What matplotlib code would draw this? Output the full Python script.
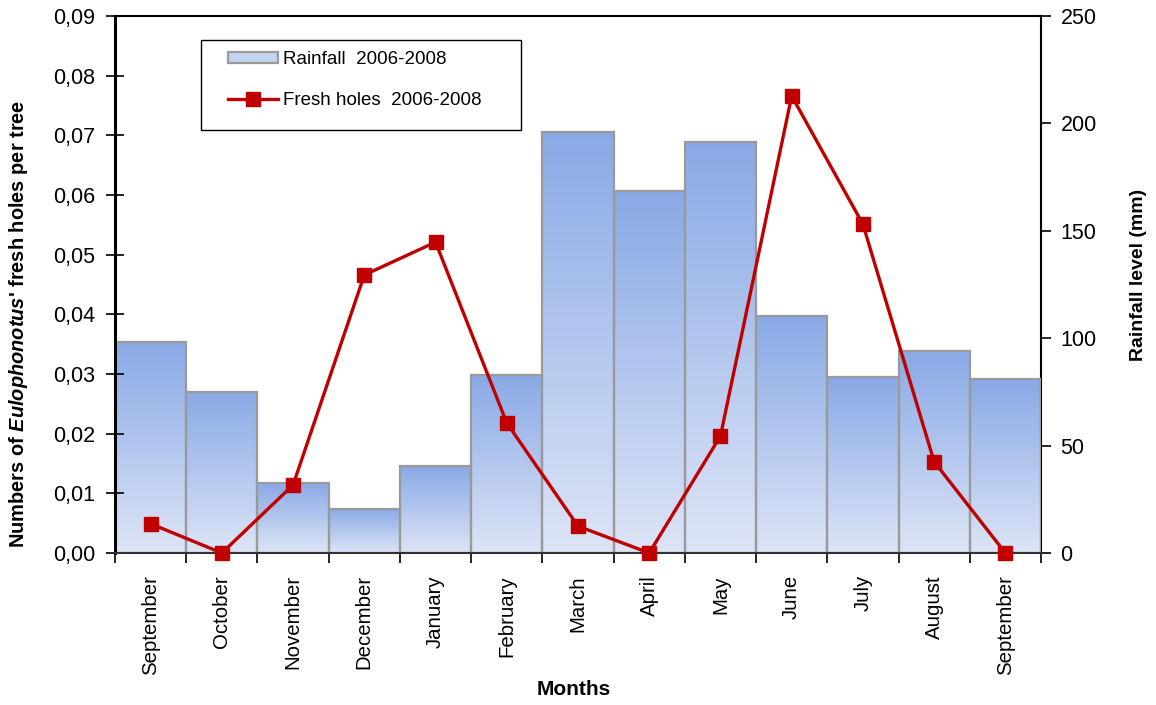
import numpy as np
import matplotlib
matplotlib.use("Agg")
import matplotlib.pyplot as plt
from matplotlib.colors import LinearSegmentedColormap
from matplotlib.patches import Patch, Rectangle
from matplotlib.lines import Line2D
from matplotlib.ticker import FuncFormatter, FixedLocator

plt.rcParams['font.family'] = ['Liberation Sans', 'DejaVu Sans']
plt.rcParams['mathtext.fontset'] = 'custom'
plt.rcParams['mathtext.bfit'] = 'Liberation Sans:italic:bold'
plt.rcParams['mathtext.it'] = 'Liberation Sans:italic'
plt.rcParams['mathtext.bf'] = 'Liberation Sans:bold'
plt.rcParams['mathtext.rm'] = 'Liberation Sans'

months = ["September", "October", "November", "December", "January", "February",
          "March", "April", "May", "June", "July", "August", "September"]
rainfall_mm = [98.2, 75.0, 32.6, 20.5, 40.5, 82.9, 196.0, 168.5, 191.3, 110.3, 81.9, 94.0, 81.0]
fresh_holes = [0.0049, 0.0, 0.0114, 0.0466, 0.0521, 0.0218, 0.0045, 0.0, 0.0196,
               0.0766, 0.0551, 0.0153, 0.0]

x = np.arange(len(months))

fig = plt.figure(figsize=(11.56, 7.05), dpi=100, facecolor='white')
ax = fig.add_axes([0.0995, 0.2156, 0.801, 0.7617])
ax2 = ax.twinx()

# rainfall bars with a vertical blue gradient inside each bar
bars = ax2.bar(x, rainfall_mm, width=1.0, facecolor='none', edgecolor='#9a9a9a',
               linewidth=1.6, zorder=3)
grad_cmap = LinearSegmentedColormap.from_list('rain', ['#dde5f6', '#89a9e6'])
grad = np.linspace(0, 1, 256).reshape(-1, 1)
for rect in bars:
    x0, w, h = rect.get_x(), rect.get_width(), rect.get_height()
    im = ax2.imshow(grad, extent=[x0, x0 + w, 0, h], origin='lower', aspect='auto',
                    cmap=grad_cmap, zorder=2, interpolation='bicubic')
    im.set_clip_path(rect)

ax2.set_ylim(0, 250)
ax2.set_yticks([0, 50, 100, 150, 200, 250])
ax2.tick_params(axis='y', direction='out', length=7, width=1.2, labelsize=15.5, pad=7)
ax2.set_ylabel('Rainfall level (mm)', fontsize=14, fontweight='bold')
ax2.yaxis.set_label_coords(1.0961, 0.518)

# fresh holes line on the left axis, drawn above the bars
ax.set_zorder(ax2.get_zorder() + 1)
ax.patch.set_visible(False)
ax.plot(x, fresh_holes, color='#c00000', linewidth=2.4, marker='s', markersize=10,
        markerfacecolor='#c00000', markeredgecolor='#c00000', zorder=5, clip_on=False)

ax.set_xlim(-0.5, len(months) - 0.5)
ax2.set_xlim(-0.5, len(months) - 0.5)
ax.set_ylim(0, 0.09)
ax.set_yticks(np.arange(0, 0.0901, 0.01))
ax.yaxis.set_major_formatter(FuncFormatter(lambda v, p: f"{v:.2f}".replace('.', ',')))
ax.tick_params(axis='y', direction='inout', length=13, width=1.2, labelsize=15.5, pad=8)

ax.set_xticks(x)
ax.set_xticklabels(months, rotation=90, fontsize=14.7, va='top')
ax.tick_params(axis='x', which='major', length=0, pad=16)
ax.xaxis.set_minor_locator(FixedLocator(np.arange(-0.5, len(months), 1.0)))
ax.tick_params(axis='x', which='minor', direction='out', length=7, width=1.2)
ax2.tick_params(axis='x', which='both', length=0)

ax.set_ylabel("Numbers of $\\mathbfit{Eulophonotus}$' fresh holes per tree",
              fontsize=14.4, fontweight='bold')
ax.yaxis.set_label_coords(-0.092, 0.426)
ax.set_xlabel('Months', fontsize=15, fontweight='bold')
ax.xaxis.set_label_coords(0.4957, -0.236)

for a in (ax, ax2):
    for s in a.spines.values():
        s.set_visible(False)
ax.spines['left'].set_visible(True)
ax.spines['left'].set_linewidth(2.2)
ax.spines['bottom'].set_visible(True)
ax.spines['bottom'].set_linewidth(1.5)
ax.spines['bottom'].set_color('#333333')
ax.spines['top'].set_visible(True)
ax.spines['top'].set_linewidth(1.5)
ax2.spines['right'].set_visible(True)
ax2.spines['right'].set_linewidth(1.5)

# legend box and entries
frame = Rectangle((0.0929, 0.7877), 0.3455, 0.1676, transform=ax.transAxes,
                  facecolor='white', edgecolor='black', linewidth=1.0, zorder=9)
ax.add_patch(frame)
handles = [Patch(facecolor='#c3d3f2', edgecolor='#9a9a9a', linewidth=1.6),
           Line2D([0], [0], color='#c00000', linewidth=2.4, marker='s', markersize=10)]
leg = ax.legend(handles, ['Rainfall  2006-2008', 'Fresh holes  2006-2008'],
                loc='upper left', bbox_to_anchor=(0.122, 0.935), fontsize=13.5,
                frameon=False, borderpad=0, labelspacing=1.3, handlelength=2.67,
                handleheight=0.5, handletextpad=0.27, borderaxespad=0)
leg.set_zorder(10)

fig.savefig('out.png', dpi=100, facecolor='white')
